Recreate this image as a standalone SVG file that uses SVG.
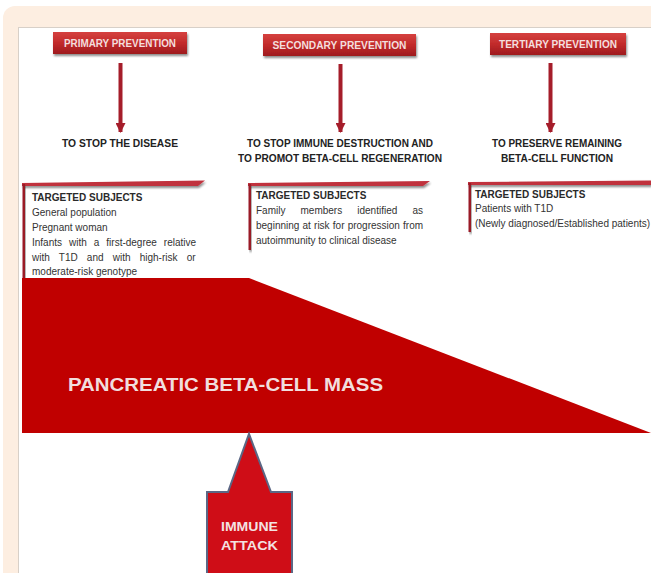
<svg xmlns="http://www.w3.org/2000/svg" width="651" height="573" viewBox="0 0 651 573">
<defs>
<linearGradient id="hdr" x1="0" y1="0" x2="0" y2="1">
<stop offset="0" stop-color="#d5413f"/>
<stop offset="0.5" stop-color="#c22b2b"/>
<stop offset="1" stop-color="#9e1a1e"/>
</linearGradient>
<filter id="sh" x="-10%" y="-50%" width="130%" height="250%">
<feGaussianBlur in="SourceAlpha" stdDeviation="1.2"/>
<feOffset dx="1" dy="1.5" result="b"/>
<feComponentTransfer><feFuncA type="linear" slope="0.45"/></feComponentTransfer>
<feMerge><feMergeNode/><feMergeNode in="SourceGraphic"/></feMerge>
</filter>
<marker id="ah" viewBox="0 0 10 10" refX="9" refY="5" markerWidth="10" markerHeight="10" markerUnits="userSpaceOnUse" orient="auto">
<path d="M0,0 L10,5 L0,10 Z" fill="#a51d2a"/>
</marker>
</defs>
<style>
.hdrbox{fill:url(#hdr);filter:url(#sh);}
.hdrtxt{font-family:"Liberation Sans",Arial,sans-serif;font-size:10px;font-weight:bold;fill:#f3dede;text-anchor:middle;}
.goal{font-family:"Liberation Sans",Arial,sans-serif;font-size:10px;font-weight:bold;fill:#222;text-anchor:middle;}
.tsh{font-family:"Liberation Sans",Arial,sans-serif;font-size:10px;font-weight:bold;fill:#2a2a2a;}
.tsb{font-family:"Liberation Sans",Arial,sans-serif;font-size:10px;fill:#333;}
.brk{fill:#c0313c;}
.vline{fill:#9a1d28;}
.conn{stroke:#a51d2a;stroke-width:4;fill:none;}
</style>
<rect width="651" height="573" fill="#ffffff"/>
<rect x="3" y="6" width="660" height="580" rx="12" fill="#fdeee1"/>
<rect x="18.5" y="27.5" width="640" height="560" fill="#ffffff" stroke="#d8d0c8" stroke-width="1"/>

<g id="connectors">
<line class="conn" x1="120.5" y1="63" x2="120.5" y2="132" marker-end="url(#ah)"/>
<line class="conn" x1="340.5" y1="64" x2="340.5" y2="132" marker-end="url(#ah)"/>
<line class="conn" x1="550.5" y1="63" x2="550.5" y2="132" marker-end="url(#ah)"/>
</g>

<g id="primary-prevention">
<rect class="hdrbox" x="53" y="32" width="134" height="22"/>
<text class="hdrtxt" x="120" y="47" textLength="112" lengthAdjust="spacingAndGlyphs">PRIMARY PREVENTION</text>
</g>
<g id="secondary-prevention">
<rect class="hdrbox" x="263" y="34" width="153" height="22"/>
<text class="hdrtxt" x="339.5" y="49" textLength="134" lengthAdjust="spacingAndGlyphs">SECONDARY PREVENTION</text>
</g>
<g id="tertiary-prevention">
<rect class="hdrbox" x="490" y="33" width="136" height="22"/>
<text class="hdrtxt" x="558" y="48" textLength="118" lengthAdjust="spacingAndGlyphs">TERTIARY  PREVENTION</text>
</g>

<g id="goal-primary">
<text class="goal" x="120" y="147" textLength="116" lengthAdjust="spacingAndGlyphs">TO  STOP THE DISEASE</text>
</g>
<g id="goal-secondary">
<text class="goal" x="340" y="147" textLength="186" lengthAdjust="spacingAndGlyphs">TO STOP IMMUNE DESTRUCTION AND</text>
<text class="goal" x="340" y="162" textLength="204" lengthAdjust="spacingAndGlyphs">TO PROMOT BETA-CELL REGENERATION</text>
</g>
<g id="goal-tertiary">
<text class="goal" x="557" y="147" textLength="130" lengthAdjust="spacingAndGlyphs">TO PRESERVE REMAINING</text>
<text class="goal" x="557" y="162" textLength="112" lengthAdjust="spacingAndGlyphs">BETA-CELL FUNCTION</text>
</g>

<g id="subjects-primary">
<path class="brk" d="M22,183 L205,180.5 L198,186 L22,186 Z" filter="url(#sh)"/>
<rect class="vline" x="22.5" y="184" width="2.5" height="94" filter="url(#sh)"/>
<text class="tsh" x="32" y="201">TARGETED SUBJECTS</text>
<text class="tsb" x="32" y="216">General population</text>
<text class="tsb" x="32" y="231">Pregnant woman</text>
<text class="tsb" x="32" y="246" word-spacing="4.2">Infants with a first-degree relative</text>
<text class="tsb" x="32" y="261" word-spacing="6.4">with T1D and with high-risk or</text>
<text class="tsb" x="32" y="275">moderate-risk genotype</text>
</g>

<g id="subjects-secondary">
<path class="brk" d="M248,183 L430,181 L423,186 L248,186 Z" filter="url(#sh)"/>
<rect class="vline" x="248.5" y="184" width="2.5" height="66" filter="url(#sh)"/>
<text class="tsh" x="256" y="199">TARGETED SUBJECTS</text>
<text class="tsb" x="256" y="214" word-spacing="12.3">Family members identified as</text>
<text class="tsb" x="256" y="229" word-spacing="0.4">beginning at risk for progression from</text>
<text class="tsb" x="256" y="244">autoimmunity to clinical disease</text>
</g>

<g id="subjects-tertiary">
<path class="brk" d="M468,182 L651,180.5 L651,185 L468,185 Z" filter="url(#sh)"/>
<rect class="vline" x="468.5" y="183" width="2.5" height="49" filter="url(#sh)"/>
<text class="tsh" x="475" y="198">TARGETED SUBJECTS</text>
<text class="tsb" x="475" y="212">Patients with T1D</text>
<text class="tsb" x="475" y="227">(Newly diagnosed/Established patients)</text>
</g>

<g id="beta-cell-mass">
<path d="M22,278 L249,278 L651,433 L22,433 Z" fill="#c00000"/>
<text x="68" y="391" font-family="'Liberation Sans',Arial,sans-serif" font-size="19" font-weight="bold" fill="#f1dede" textLength="315" lengthAdjust="spacingAndGlyphs">PANCREATIC BETA-CELL MASS</text>
</g>

<g id="immune-attack">
<path d="M207,574 L207,492 L228,492 L249,434 L271,492 L292,492 L292,574 Z" fill="#cf0d17" stroke="#5b6785" stroke-width="2" stroke-linejoin="miter"/>
<text x="249.5" y="531" font-family="'Liberation Sans',Arial,sans-serif" font-size="13" font-weight="bold" fill="#f3e2e2" text-anchor="middle" textLength="57" lengthAdjust="spacingAndGlyphs">IMMUNE</text>
<text x="249.5" y="550" font-family="'Liberation Sans',Arial,sans-serif" font-size="13" font-weight="bold" fill="#f3e2e2" text-anchor="middle" textLength="57" lengthAdjust="spacingAndGlyphs">ATTACK</text>
</g>
</svg>
